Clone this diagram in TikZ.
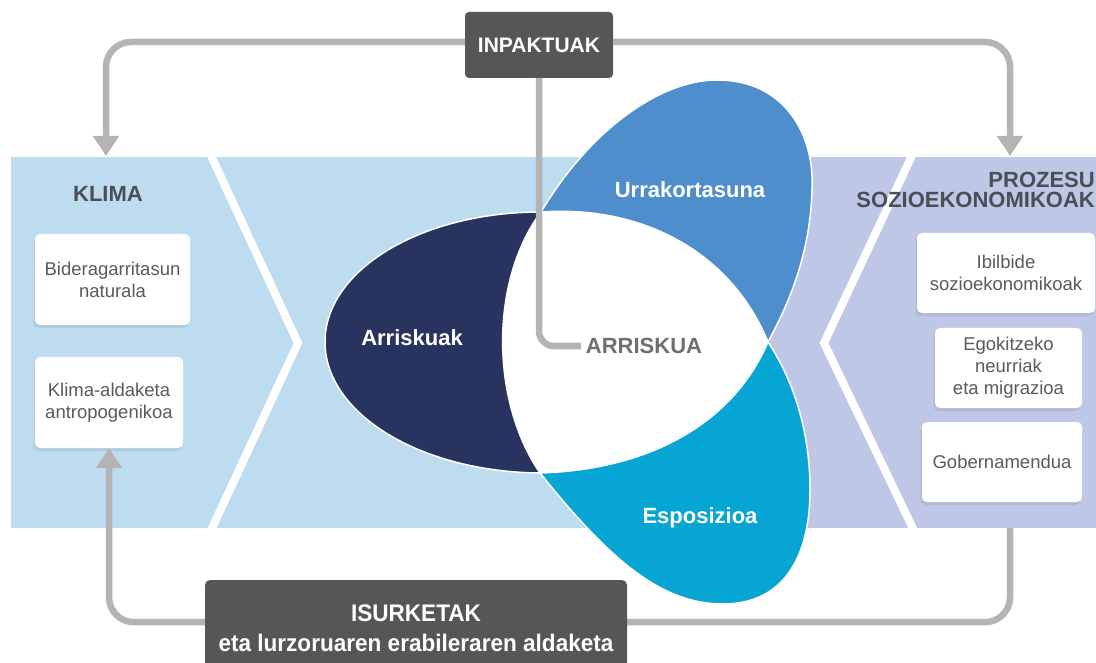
\documentclass[tikz,border=0pt]{standalone}
\usepackage{fontspec}
\setmainfont{Liberation Sans}
\newfontfamily\condfont{Liberation Sans}[FakeStretch=0.94]
\usetikzlibrary{arrows.meta,shadows,calc}
\definecolor{bandblue}{HTML}{BEDCEF}
\definecolor{lavender}{HTML}{BEC7E5}
\definecolor{navy}{HTML}{29335F}
\definecolor{petalblue}{HTML}{4F8ECD}
\definecolor{petalcyan}{HTML}{07A5D3}
\definecolor{boxdark}{HTML}{565656}
\definecolor{linegray}{HTML}{B4B4B4}
\definecolor{headgray}{HTML}{4A4F57}
\definecolor{boxtext}{HTML}{5A5A5A}
\definecolor{riskgray}{HTML}{6F6F6F}
\begin{document}
\begin{tikzpicture}[x=1pt,y=-1pt,
  conn/.style={draw=linegray, line width=6.5pt},
  tipd/.style={-{Triangle[width=25pt,length=20pt]}},
  darkbox/.style={fill=boxdark, text=white, rounded corners=4pt, align=center},
  petaltxt/.style={text=white, font=\bfseries\fontsize{22}{26}\selectfont},
  header/.style={text=headgray, inner sep=0pt, font=\bfseries\fontsize{22}{20}\selectfont},
  wbox/.style={fill=white, rounded corners=5pt, align=center, text=boxtext, inner sep=0pt,
    font=\fontsize{18.5}{22}\selectfont,
    drop shadow={opacity=0.18, shadow xshift=-1.5pt, shadow yshift=-3pt}},
  petaledge/.style={draw=white, line width=1.5pt}]
\useasboundingbox (0,0) rectangle (1096,663);
\fill[white] (0,0) rectangle (1096,663);

% panels
\fill[bandblue] (11,157) rectangle (765,528);
\fill[lavender] (765,157) rectangle (1096,528);
\begin{scope}
  \clip (11,157) rectangle (1096,528);
  \draw[white, line width=8pt] (207,147) -- (298,343) -- (207,539);
  \draw[white, line width=8pt] (916,147) -- (824,343) -- (918,539);
\end{scope}

% petals
\path[fill=navy, petaledge] (541,212) .. controls (421,212) and (325,270) .. (325,342)
  .. controls (325,414) and (421,472) .. (540,473)
  .. controls (490,400) and (490,280) .. (541,212) -- cycle;
\path[fill=petalblue, petaledge] (541,212) .. controls (590,130) and (660,80) .. (717,80)
  .. controls (785,80) and (815,135) .. (812,190)
  .. controls (810,260) and (785,310) .. (768,342)
  .. controls (730,250) and (640,205) .. (541,212) -- cycle;
\path[fill=petalcyan, petaledge] (768,342) .. controls (790,375) and (810,425) .. (810,490)
  .. controls (810,555) and (785,604) .. (723,604)
  .. controls (663,604) and (612,563) .. (540,473)
  .. controls (640,470) and (730,430) .. (768,342) -- cycle;
\path[fill=white] (541,212) .. controls (640,205) and (730,250) .. (768,342)
  .. controls (730,430) and (640,470) .. (540,473)
  .. controls (490,400) and (490,280) .. (541,212) -- cycle;

% petal labels
\node[petaltxt] (urra) at (690,190) {Urrakortasuna};
\node[petaltxt] (arrk) at (412,338) {Arriskuak};
\node[petaltxt] (espo) at (700,518) {Esposizioa};
\node[text=riskgray, inner sep=4.5pt, font=\bfseries\fontsize{22}{26}\selectfont] (arr) at (644,346) {ARRISKUA};

% headers
\node[header] (klima) at (108,194) {KLIMA};
\node[header, anchor=east, align=right] (proz) at (1095,190) {PROZESU\\SOZIOEKONOMIKOAK};

% boxes
\node[wbox, minimum width=155pt, minimum height=91pt] (k1) at (112.5,279.5) {Bideragarritasun\\naturala};
\node[wbox, minimum width=148pt, minimum height=91pt] (k2) at (109,402.5) {Klima-aldaketa\\antropogenikoa};
\node[wbox, minimum width=178pt, minimum height=80pt] (p1) at (1006,273) {Ibilbide\\sozioekonomikoak};
\node[wbox, minimum width=147pt, minimum height=80pt] (p2) at (1008.5,368) {Egokitzeko\\neurriak\\eta migrazioa};
\node[wbox, minimum width=160pt, minimum height=80pt] (p3) at (1002,462) {Gobernamendua};

% top box and connectors
\node[darkbox, minimum width=148pt, minimum height=66pt, font=\bfseries\fontsize{21}{25}\selectfont] (inp) at (539,45) {INPAKTUAK};
\coordinate (ktop) at (106,156);
\coordinate (ptop) at (1010,156);
\coordinate (pbot) at (1010,528);
\draw[conn, tipd, rounded corners=25pt] ([yshift=3pt]inp.west) -| (ktop);
\draw[conn, tipd, rounded corners=25pt] ([yshift=3pt]inp.east) -| (ptop);
\draw[conn, rounded corners=15pt] (inp.south) |- (arr.west);
\draw[conn, tipd, rounded corners=25pt] (pbot) |- ($(k2.south)+(0,174)$) -- (k2.south);

% bottom box
\node[darkbox, minimum width=422pt, minimum height=96pt, rounded corners=5pt,
  font=\condfont\bfseries\fontsize{24}{30}\selectfont] (isu) at (416,628)
  {ISURKETAK\\eta lurzoruaren erabileraren aldaketa};
\end{tikzpicture}
\end{document}
